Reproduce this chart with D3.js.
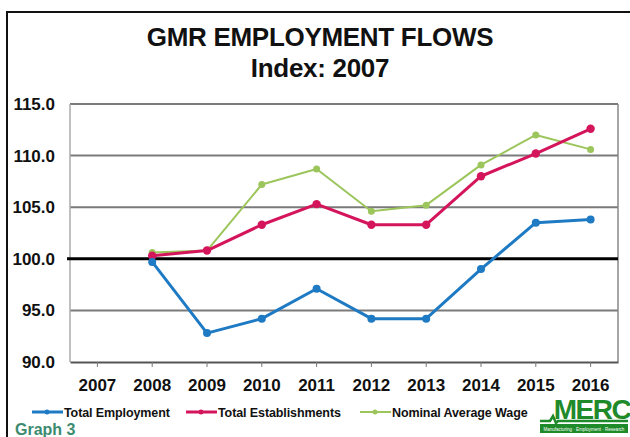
<!DOCTYPE html>
<html><head><meta charset="utf-8">
<script src="https://cdn.jsdelivr.net/npm/d3@7"></script>
<style>body{margin:0;background:#fff}svg{display:block}</style>
</head><body>
<script>
const years = ["2007","2008","2009","2010","2011","2012","2013","2014","2015","2016"];
const yTicks = [90,95,100,105,110,115];
const seriesNames = ["Total Employment","Total Establishments","Nominal Average Wage"];
const seriesColors = ["#1f7ac4","#d4155c","#9cc55c"];
const totalEmployment = [null,99.7,92.8,94.2,97.1,94.2,94.2,99.0,103.5,103.8];
const totalEstablishments = [null,100.3,100.8,103.3,105.3,103.3,103.3,108.0,110.2,112.6];
const nominalAverageWage = [null,100.6,100.8,107.2,108.7,104.6,105.2,109.1,112.0,110.6];

const W=630,H=437;
const svg=d3.select("body").append("svg").attr("width",W).attr("height",H);
const font="Arial, 'Liberation Sans', sans-serif";

// frame
svg.append("path").attr("d","M7,437 V12 H630").attr("fill","none").attr("stroke","#111").attr("stroke-width",2);

// title
svg.append("text").attr("x",320).attr("y",46).attr("text-anchor","middle").attr("font-family",font)
  .attr("font-weight","bold").attr("font-size",26).attr("letter-spacing","-0.3").attr("fill","#111").text("GMR EMPLOYMENT FLOWS");
svg.append("text").attr("x",320).attr("y",77).attr("text-anchor","middle").attr("font-family",font)
  .attr("font-weight","bold").attr("font-size",26).attr("letter-spacing","-0.3").attr("fill","#111").text("Index: 2007");

const x=d3.scaleBand().domain(years).range([70,618]);
const y=d3.scaleLinear().domain([90,115]).range([362,104]);

// gridlines
svg.append("g").selectAll("line").data(yTicks.filter(d=>d!==100&&d!==90)).join("line")
  .attr("x1",70).attr("x2",618).attr("y1",d=>y(d)).attr("y2",d=>y(d))
  .attr("stroke","#7a7a7a").attr("stroke-width",2);
// plot border sides
svg.append("line").attr("x1",70).attr("x2",70).attr("y1",y(115)).attr("y2",y(90)).attr("stroke","#aaa").attr("stroke-width",1.5);
svg.append("line").attr("x1",618).attr("x2",618).attr("y1",y(115)).attr("y2",y(90)).attr("stroke","#888").attr("stroke-width",1.5);

// x axis
const xAxis=svg.append("g").attr("transform","translate(0,"+y(90)+")")
  .call(d3.axisBottom(x).tickSizeInner(5).tickSizeOuter(0).tickPadding(12));
xAxis.select(".domain").attr("stroke","#555").attr("stroke-width",2);
xAxis.selectAll(".tick line").attr("stroke","#777");
xAxis.selectAll("text").attr("font-family",font).attr("font-weight","bold").attr("font-size",17).attr("fill","#111");

// y axis labels
const yAxis=svg.append("g").attr("transform","translate(55,0)")
  .call(d3.axisLeft(y).tickValues(yTicks).tickFormat(d3.format(".1f")).tickSize(0).tickPadding(0));
yAxis.select(".domain").remove();
yAxis.selectAll("text").attr("font-family",font).attr("font-weight","bold").attr("font-size",17).attr("fill","#111");

// 100 baseline
svg.append("line").attr("x1",67).attr("x2",618).attr("y1",y(100)).attr("y2",y(100)).attr("stroke","#000").attr("stroke-width",3);

const data=[totalEmployment,totalEstablishments,nominalAverageWage];
const widths=[3,3,2];
const radii=[4,4.2,3.5];
const line=d3.line().defined(d=>d.v!=null).x(d=>x(d.k)+x.bandwidth()/2).y(d=>y(d.v));
[2,1,0].forEach(i=>{
  const pts=years.map((k,j)=>({k,v:data[i][j]}));
  const g=svg.append("g");
  g.append("path").datum(pts).attr("d",line).attr("fill","none").attr("stroke",seriesColors[i]).attr("stroke-width",widths[i]).attr("stroke-linejoin","round");
  g.selectAll("circle").data(pts.filter(d=>d.v!=null)).join("circle")
    .attr("cx",d=>x(d.k)+x.bandwidth()/2).attr("cy",d=>y(d.v)).attr("r",radii[i]).attr("fill",seriesColors[i]);
});

// legend
const legX=[32,186,360];
seriesNames.forEach((n,i)=>{
  const g=svg.append("g").attr("transform","translate("+legX[i]+",412)");
  g.append("line").attr("x1",0).attr("x2",31).attr("y1",0).attr("y2",0).attr("stroke",seriesColors[i]).attr("stroke-width",i==2?2:3);
  g.append("circle").attr("cx",15).attr("cy",0).attr("r",2.5).attr("fill",seriesColors[i]);
  g.append("text").attr("x",32).attr("y",4.5).attr("font-family",font).attr("font-weight","bold").attr("font-size",12.5)
    .attr("letter-spacing","-0.1").attr("fill","#111").text(n);
});

// Graph 3 label
svg.append("text").attr("x",15).attr("y",435).attr("font-family",font).attr("font-weight","bold").attr("font-size",16)
  .attr("fill","#3c8b70").text("Graph 3");

// MERC logo
const logo=svg.append("g").attr("transform","translate(538,396)");
logo.append("text").attr("x",54).attr("y",23).attr("text-anchor","middle").attr("font-family",font).attr("font-weight","bold")
  .attr("font-size",28).attr("letter-spacing","-1.5").attr("fill","#1f8a2a").text("MERC");
logo.append("path").attr("d","M2,25 H12 L15,20 L18,27 L20,25 H90").attr("fill","none").attr("stroke","#1f8a2a").attr("stroke-width",2.5);
logo.append("rect").attr("x",2).attr("y",28).attr("width",88).attr("height",9).attr("fill","#1f8a2a");
logo.append("text").attr("x",46).attr("y",35).attr("text-anchor","middle").attr("font-family",font).attr("font-size",4.5)
  .attr("fill","#fff").text("Manufacturing · Employment · Research");
</script>
</body></html>
